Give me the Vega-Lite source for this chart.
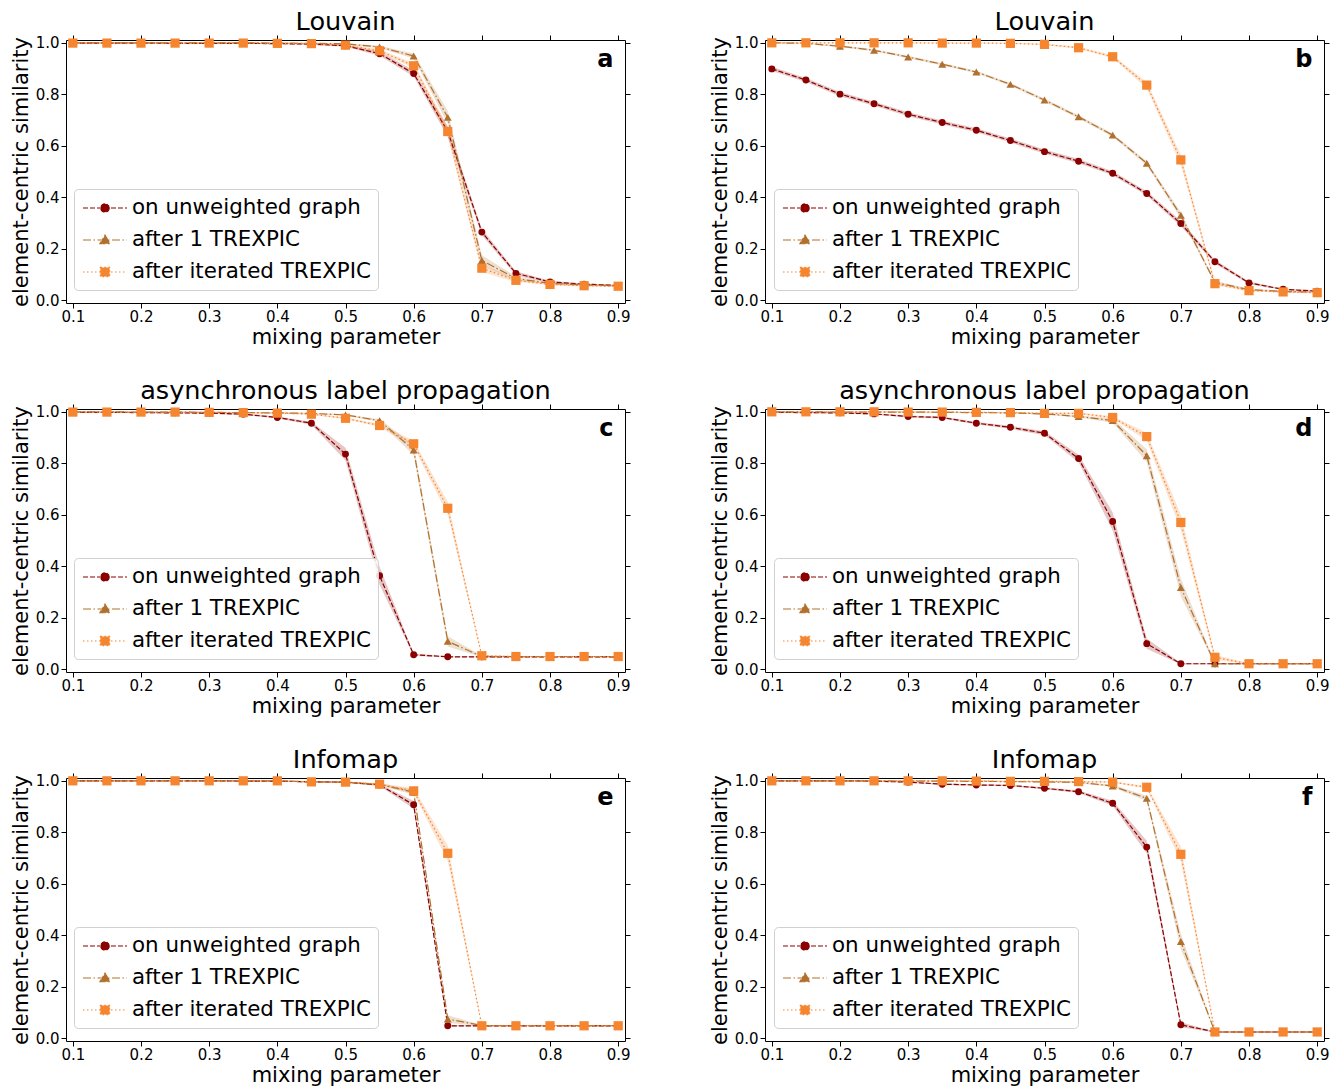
{
  "$schema": "https://vega.github.io/schema/vega-lite/v6.json",
  "padding": {"left": 9, "top": 9, "right": 5, "bottom": 0},
  "columns": 2,
  "spacing": {"row": 106, "column": 140},
  "bounds": "flush",
  "datasets": {
    "curves": [
      {"p":"a","s":"on unweighted graph","mu":0.1,"v":0.998,"lo":0.996,"hi":1.0},
      {"p":"a","s":"on unweighted graph","mu":0.15,"v":0.998,"lo":0.996,"hi":1.0},
      {"p":"a","s":"on unweighted graph","mu":0.2,"v":0.998,"lo":0.996,"hi":1.0},
      {"p":"a","s":"on unweighted graph","mu":0.25,"v":0.997,"lo":0.995,"hi":0.999},
      {"p":"a","s":"on unweighted graph","mu":0.3,"v":0.997,"lo":0.995,"hi":0.999},
      {"p":"a","s":"on unweighted graph","mu":0.35,"v":0.997,"lo":0.995,"hi":0.999},
      {"p":"a","s":"on unweighted graph","mu":0.4,"v":0.996,"lo":0.994,"hi":0.998},
      {"p":"a","s":"on unweighted graph","mu":0.45,"v":0.994,"lo":0.991,"hi":0.997},
      {"p":"a","s":"on unweighted graph","mu":0.5,"v":0.988,"lo":0.984,"hi":0.992},
      {"p":"a","s":"on unweighted graph","mu":0.55,"v":0.957,"lo":0.949,"hi":0.965},
      {"p":"a","s":"on unweighted graph","mu":0.6,"v":0.88,"lo":0.868,"hi":0.892},
      {"p":"a","s":"on unweighted graph","mu":0.65,"v":0.655,"lo":0.635,"hi":0.675},
      {"p":"a","s":"on unweighted graph","mu":0.7,"v":0.265,"lo":0.253,"hi":0.277},
      {"p":"a","s":"on unweighted graph","mu":0.75,"v":0.105,"lo":0.097,"hi":0.113},
      {"p":"a","s":"on unweighted graph","mu":0.8,"v":0.072,"lo":0.068,"hi":0.076},
      {"p":"a","s":"on unweighted graph","mu":0.85,"v":0.063,"lo":0.06,"hi":0.066},
      {"p":"a","s":"on unweighted graph","mu":0.9,"v":0.058,"lo":0.055,"hi":0.061},
      {"p":"a","s":"after 1 TREXPIC","mu":0.1,"v":0.999,"lo":0.997,"hi":1.0},
      {"p":"a","s":"after 1 TREXPIC","mu":0.15,"v":0.999,"lo":0.997,"hi":1.0},
      {"p":"a","s":"after 1 TREXPIC","mu":0.2,"v":0.999,"lo":0.997,"hi":1.0},
      {"p":"a","s":"after 1 TREXPIC","mu":0.25,"v":0.999,"lo":0.997,"hi":1.0},
      {"p":"a","s":"after 1 TREXPIC","mu":0.3,"v":0.999,"lo":0.997,"hi":1.0},
      {"p":"a","s":"after 1 TREXPIC","mu":0.35,"v":0.999,"lo":0.997,"hi":1.0},
      {"p":"a","s":"after 1 TREXPIC","mu":0.4,"v":0.998,"lo":0.996,"hi":1.0},
      {"p":"a","s":"after 1 TREXPIC","mu":0.45,"v":0.997,"lo":0.995,"hi":0.999},
      {"p":"a","s":"after 1 TREXPIC","mu":0.5,"v":0.995,"lo":0.992,"hi":0.998},
      {"p":"a","s":"after 1 TREXPIC","mu":0.55,"v":0.983,"lo":0.978,"hi":0.988},
      {"p":"a","s":"after 1 TREXPIC","mu":0.6,"v":0.948,"lo":0.938,"hi":0.958},
      {"p":"a","s":"after 1 TREXPIC","mu":0.65,"v":0.71,"lo":0.685,"hi":0.735},
      {"p":"a","s":"after 1 TREXPIC","mu":0.7,"v":0.155,"lo":0.135,"hi":0.175},
      {"p":"a","s":"after 1 TREXPIC","mu":0.75,"v":0.085,"lo":0.077,"hi":0.093},
      {"p":"a","s":"after 1 TREXPIC","mu":0.8,"v":0.066,"lo":0.062,"hi":0.07},
      {"p":"a","s":"after 1 TREXPIC","mu":0.85,"v":0.06,"lo":0.057,"hi":0.063},
      {"p":"a","s":"after 1 TREXPIC","mu":0.9,"v":0.057,"lo":0.054,"hi":0.06},
      {"p":"a","s":"after iterated TREXPIC","mu":0.1,"v":0.998,"lo":0.996,"hi":1.0},
      {"p":"a","s":"after iterated TREXPIC","mu":0.15,"v":0.998,"lo":0.996,"hi":1.0},
      {"p":"a","s":"after iterated TREXPIC","mu":0.2,"v":0.998,"lo":0.996,"hi":1.0},
      {"p":"a","s":"after iterated TREXPIC","mu":0.25,"v":0.998,"lo":0.996,"hi":1.0},
      {"p":"a","s":"after iterated TREXPIC","mu":0.3,"v":0.998,"lo":0.996,"hi":1.0},
      {"p":"a","s":"after iterated TREXPIC","mu":0.35,"v":0.998,"lo":0.996,"hi":1.0},
      {"p":"a","s":"after iterated TREXPIC","mu":0.4,"v":0.997,"lo":0.995,"hi":0.999},
      {"p":"a","s":"after iterated TREXPIC","mu":0.45,"v":0.996,"lo":0.994,"hi":0.998},
      {"p":"a","s":"after iterated TREXPIC","mu":0.5,"v":0.99,"lo":0.986,"hi":0.994},
      {"p":"a","s":"after iterated TREXPIC","mu":0.55,"v":0.968,"lo":0.962,"hi":0.974},
      {"p":"a","s":"after iterated TREXPIC","mu":0.6,"v":0.91,"lo":0.9,"hi":0.92},
      {"p":"a","s":"after iterated TREXPIC","mu":0.65,"v":0.655,"lo":0.635,"hi":0.675},
      {"p":"a","s":"after iterated TREXPIC","mu":0.7,"v":0.125,"lo":0.11,"hi":0.14},
      {"p":"a","s":"after iterated TREXPIC","mu":0.75,"v":0.078,"lo":0.072,"hi":0.084},
      {"p":"a","s":"after iterated TREXPIC","mu":0.8,"v":0.062,"lo":0.058,"hi":0.066},
      {"p":"a","s":"after iterated TREXPIC","mu":0.85,"v":0.057,"lo":0.054,"hi":0.06},
      {"p":"a","s":"after iterated TREXPIC","mu":0.9,"v":0.055,"lo":0.052,"hi":0.058},

      {"p":"b","s":"on unweighted graph","mu":0.1,"v":0.898,"lo":0.89,"hi":0.906},
      {"p":"b","s":"on unweighted graph","mu":0.15,"v":0.855,"lo":0.847,"hi":0.863},
      {"p":"b","s":"on unweighted graph","mu":0.2,"v":0.8,"lo":0.792,"hi":0.808},
      {"p":"b","s":"on unweighted graph","mu":0.25,"v":0.763,"lo":0.755,"hi":0.771},
      {"p":"b","s":"on unweighted graph","mu":0.3,"v":0.722,"lo":0.714,"hi":0.73},
      {"p":"b","s":"on unweighted graph","mu":0.35,"v":0.69,"lo":0.682,"hi":0.698},
      {"p":"b","s":"on unweighted graph","mu":0.4,"v":0.66,"lo":0.652,"hi":0.668},
      {"p":"b","s":"on unweighted graph","mu":0.45,"v":0.62,"lo":0.612,"hi":0.628},
      {"p":"b","s":"on unweighted graph","mu":0.5,"v":0.577,"lo":0.569,"hi":0.585},
      {"p":"b","s":"on unweighted graph","mu":0.55,"v":0.54,"lo":0.532,"hi":0.548},
      {"p":"b","s":"on unweighted graph","mu":0.6,"v":0.493,"lo":0.485,"hi":0.501},
      {"p":"b","s":"on unweighted graph","mu":0.65,"v":0.415,"lo":0.407,"hi":0.423},
      {"p":"b","s":"on unweighted graph","mu":0.7,"v":0.298,"lo":0.288,"hi":0.308},
      {"p":"b","s":"on unweighted graph","mu":0.75,"v":0.15,"lo":0.142,"hi":0.158},
      {"p":"b","s":"on unweighted graph","mu":0.8,"v":0.068,"lo":0.063,"hi":0.073},
      {"p":"b","s":"on unweighted graph","mu":0.85,"v":0.043,"lo":0.04,"hi":0.046},
      {"p":"b","s":"on unweighted graph","mu":0.9,"v":0.036,"lo":0.033,"hi":0.039},
      {"p":"b","s":"after 1 TREXPIC","mu":0.1,"v":0.999,"lo":0.997,"hi":1.0},
      {"p":"b","s":"after 1 TREXPIC","mu":0.15,"v":0.997,"lo":0.995,"hi":0.999},
      {"p":"b","s":"after 1 TREXPIC","mu":0.2,"v":0.986,"lo":0.982,"hi":0.99},
      {"p":"b","s":"after 1 TREXPIC","mu":0.25,"v":0.97,"lo":0.966,"hi":0.974},
      {"p":"b","s":"after 1 TREXPIC","mu":0.3,"v":0.944,"lo":0.939,"hi":0.949},
      {"p":"b","s":"after 1 TREXPIC","mu":0.35,"v":0.916,"lo":0.911,"hi":0.921},
      {"p":"b","s":"after 1 TREXPIC","mu":0.4,"v":0.886,"lo":0.881,"hi":0.891},
      {"p":"b","s":"after 1 TREXPIC","mu":0.45,"v":0.838,"lo":0.833,"hi":0.843},
      {"p":"b","s":"after 1 TREXPIC","mu":0.5,"v":0.777,"lo":0.771,"hi":0.783},
      {"p":"b","s":"after 1 TREXPIC","mu":0.55,"v":0.712,"lo":0.706,"hi":0.718},
      {"p":"b","s":"after 1 TREXPIC","mu":0.6,"v":0.641,"lo":0.635,"hi":0.647},
      {"p":"b","s":"after 1 TREXPIC","mu":0.65,"v":0.532,"lo":0.524,"hi":0.54},
      {"p":"b","s":"after 1 TREXPIC","mu":0.7,"v":0.33,"lo":0.318,"hi":0.342},
      {"p":"b","s":"after 1 TREXPIC","mu":0.75,"v":0.07,"lo":0.064,"hi":0.076},
      {"p":"b","s":"after 1 TREXPIC","mu":0.8,"v":0.042,"lo":0.039,"hi":0.045},
      {"p":"b","s":"after 1 TREXPIC","mu":0.85,"v":0.035,"lo":0.032,"hi":0.038},
      {"p":"b","s":"after 1 TREXPIC","mu":0.9,"v":0.032,"lo":0.029,"hi":0.035},
      {"p":"b","s":"after iterated TREXPIC","mu":0.1,"v":0.999,"lo":0.997,"hi":1.0},
      {"p":"b","s":"after iterated TREXPIC","mu":0.15,"v":0.999,"lo":0.997,"hi":1.0},
      {"p":"b","s":"after iterated TREXPIC","mu":0.2,"v":0.999,"lo":0.997,"hi":1.0},
      {"p":"b","s":"after iterated TREXPIC","mu":0.25,"v":0.999,"lo":0.997,"hi":1.0},
      {"p":"b","s":"after iterated TREXPIC","mu":0.3,"v":0.999,"lo":0.997,"hi":1.0},
      {"p":"b","s":"after iterated TREXPIC","mu":0.35,"v":0.998,"lo":0.996,"hi":1.0},
      {"p":"b","s":"after iterated TREXPIC","mu":0.4,"v":0.998,"lo":0.996,"hi":1.0},
      {"p":"b","s":"after iterated TREXPIC","mu":0.45,"v":0.997,"lo":0.995,"hi":0.999},
      {"p":"b","s":"after iterated TREXPIC","mu":0.5,"v":0.993,"lo":0.99,"hi":0.996},
      {"p":"b","s":"after iterated TREXPIC","mu":0.55,"v":0.98,"lo":0.976,"hi":0.984},
      {"p":"b","s":"after iterated TREXPIC","mu":0.6,"v":0.945,"lo":0.939,"hi":0.951},
      {"p":"b","s":"after iterated TREXPIC","mu":0.65,"v":0.835,"lo":0.823,"hi":0.847},
      {"p":"b","s":"after iterated TREXPIC","mu":0.7,"v":0.545,"lo":0.525,"hi":0.565},
      {"p":"b","s":"after iterated TREXPIC","mu":0.75,"v":0.065,"lo":0.059,"hi":0.071},
      {"p":"b","s":"after iterated TREXPIC","mu":0.8,"v":0.038,"lo":0.035,"hi":0.041},
      {"p":"b","s":"after iterated TREXPIC","mu":0.85,"v":0.033,"lo":0.03,"hi":0.036},
      {"p":"b","s":"after iterated TREXPIC","mu":0.9,"v":0.03,"lo":0.027,"hi":0.033},

      {"p":"c","s":"on unweighted graph","mu":0.1,"v":0.997,"lo":0.995,"hi":0.999},
      {"p":"c","s":"on unweighted graph","mu":0.15,"v":0.997,"lo":0.995,"hi":0.999},
      {"p":"c","s":"on unweighted graph","mu":0.2,"v":0.996,"lo":0.994,"hi":0.998},
      {"p":"c","s":"on unweighted graph","mu":0.25,"v":0.995,"lo":0.993,"hi":0.997},
      {"p":"c","s":"on unweighted graph","mu":0.3,"v":0.994,"lo":0.992,"hi":0.996},
      {"p":"c","s":"on unweighted graph","mu":0.35,"v":0.99,"lo":0.987,"hi":0.993},
      {"p":"c","s":"on unweighted graph","mu":0.4,"v":0.977,"lo":0.973,"hi":0.981},
      {"p":"c","s":"on unweighted graph","mu":0.45,"v":0.955,"lo":0.949,"hi":0.961},
      {"p":"c","s":"on unweighted graph","mu":0.5,"v":0.835,"lo":0.81,"hi":0.86},
      {"p":"c","s":"on unweighted graph","mu":0.55,"v":0.363,"lo":0.328,"hi":0.398},
      {"p":"c","s":"on unweighted graph","mu":0.6,"v":0.057,"lo":0.052,"hi":0.062},
      {"p":"c","s":"on unweighted graph","mu":0.65,"v":0.049,"lo":0.047,"hi":0.051},
      {"p":"c","s":"on unweighted graph","mu":0.7,"v":0.049,"lo":0.047,"hi":0.051},
      {"p":"c","s":"on unweighted graph","mu":0.75,"v":0.049,"lo":0.047,"hi":0.051},
      {"p":"c","s":"on unweighted graph","mu":0.8,"v":0.049,"lo":0.047,"hi":0.051},
      {"p":"c","s":"on unweighted graph","mu":0.85,"v":0.049,"lo":0.047,"hi":0.051},
      {"p":"c","s":"on unweighted graph","mu":0.9,"v":0.049,"lo":0.047,"hi":0.051},
      {"p":"c","s":"after 1 TREXPIC","mu":0.1,"v":0.999,"lo":0.997,"hi":1.0},
      {"p":"c","s":"after 1 TREXPIC","mu":0.15,"v":0.999,"lo":0.997,"hi":1.0},
      {"p":"c","s":"after 1 TREXPIC","mu":0.2,"v":0.998,"lo":0.996,"hi":1.0},
      {"p":"c","s":"after 1 TREXPIC","mu":0.25,"v":0.998,"lo":0.996,"hi":1.0},
      {"p":"c","s":"after 1 TREXPIC","mu":0.3,"v":0.997,"lo":0.995,"hi":0.999},
      {"p":"c","s":"after 1 TREXPIC","mu":0.35,"v":0.996,"lo":0.994,"hi":0.998},
      {"p":"c","s":"after 1 TREXPIC","mu":0.4,"v":0.995,"lo":0.993,"hi":0.997},
      {"p":"c","s":"after 1 TREXPIC","mu":0.45,"v":0.993,"lo":0.991,"hi":0.995},
      {"p":"c","s":"after 1 TREXPIC","mu":0.5,"v":0.987,"lo":0.984,"hi":0.99},
      {"p":"c","s":"after 1 TREXPIC","mu":0.55,"v":0.965,"lo":0.96,"hi":0.97},
      {"p":"c","s":"after 1 TREXPIC","mu":0.6,"v":0.851,"lo":0.831,"hi":0.871},
      {"p":"c","s":"after 1 TREXPIC","mu":0.65,"v":0.109,"lo":0.089,"hi":0.129},
      {"p":"c","s":"after 1 TREXPIC","mu":0.7,"v":0.05,"lo":0.047,"hi":0.053},
      {"p":"c","s":"after 1 TREXPIC","mu":0.75,"v":0.05,"lo":0.048,"hi":0.052},
      {"p":"c","s":"after 1 TREXPIC","mu":0.8,"v":0.05,"lo":0.048,"hi":0.052},
      {"p":"c","s":"after 1 TREXPIC","mu":0.85,"v":0.05,"lo":0.048,"hi":0.052},
      {"p":"c","s":"after 1 TREXPIC","mu":0.9,"v":0.05,"lo":0.048,"hi":0.052},
      {"p":"c","s":"after iterated TREXPIC","mu":0.1,"v":0.998,"lo":0.996,"hi":1.0},
      {"p":"c","s":"after iterated TREXPIC","mu":0.15,"v":0.998,"lo":0.996,"hi":1.0},
      {"p":"c","s":"after iterated TREXPIC","mu":0.2,"v":0.998,"lo":0.996,"hi":1.0},
      {"p":"c","s":"after iterated TREXPIC","mu":0.25,"v":0.998,"lo":0.996,"hi":1.0},
      {"p":"c","s":"after iterated TREXPIC","mu":0.3,"v":0.997,"lo":0.995,"hi":0.999},
      {"p":"c","s":"after iterated TREXPIC","mu":0.35,"v":0.996,"lo":0.994,"hi":0.998},
      {"p":"c","s":"after iterated TREXPIC","mu":0.4,"v":0.994,"lo":0.992,"hi":0.996},
      {"p":"c","s":"after iterated TREXPIC","mu":0.45,"v":0.99,"lo":0.987,"hi":0.993},
      {"p":"c","s":"after iterated TREXPIC","mu":0.5,"v":0.974,"lo":0.97,"hi":0.978},
      {"p":"c","s":"after iterated TREXPIC","mu":0.55,"v":0.946,"lo":0.94,"hi":0.952},
      {"p":"c","s":"after iterated TREXPIC","mu":0.6,"v":0.875,"lo":0.863,"hi":0.887},
      {"p":"c","s":"after iterated TREXPIC","mu":0.65,"v":0.625,"lo":0.6,"hi":0.65},
      {"p":"c","s":"after iterated TREXPIC","mu":0.7,"v":0.053,"lo":0.049,"hi":0.057},
      {"p":"c","s":"after iterated TREXPIC","mu":0.75,"v":0.05,"lo":0.048,"hi":0.052},
      {"p":"c","s":"after iterated TREXPIC","mu":0.8,"v":0.05,"lo":0.048,"hi":0.052},
      {"p":"c","s":"after iterated TREXPIC","mu":0.85,"v":0.05,"lo":0.048,"hi":0.052},
      {"p":"c","s":"after iterated TREXPIC","mu":0.9,"v":0.05,"lo":0.048,"hi":0.052},

      {"p":"d","s":"on unweighted graph","mu":0.1,"v":0.997,"lo":0.995,"hi":0.999},
      {"p":"d","s":"on unweighted graph","mu":0.15,"v":0.996,"lo":0.994,"hi":0.998},
      {"p":"d","s":"on unweighted graph","mu":0.2,"v":0.995,"lo":0.993,"hi":0.997},
      {"p":"d","s":"on unweighted graph","mu":0.25,"v":0.991,"lo":0.988,"hi":0.994},
      {"p":"d","s":"on unweighted graph","mu":0.3,"v":0.981,"lo":0.977,"hi":0.985},
      {"p":"d","s":"on unweighted graph","mu":0.35,"v":0.977,"lo":0.973,"hi":0.981},
      {"p":"d","s":"on unweighted graph","mu":0.4,"v":0.955,"lo":0.95,"hi":0.96},
      {"p":"d","s":"on unweighted graph","mu":0.45,"v":0.939,"lo":0.933,"hi":0.945},
      {"p":"d","s":"on unweighted graph","mu":0.5,"v":0.916,"lo":0.908,"hi":0.924},
      {"p":"d","s":"on unweighted graph","mu":0.55,"v":0.818,"lo":0.803,"hi":0.833},
      {"p":"d","s":"on unweighted graph","mu":0.6,"v":0.574,"lo":0.539,"hi":0.609},
      {"p":"d","s":"on unweighted graph","mu":0.65,"v":0.1,"lo":0.08,"hi":0.12},
      {"p":"d","s":"on unweighted graph","mu":0.7,"v":0.022,"lo":0.019,"hi":0.025},
      {"p":"d","s":"on unweighted graph","mu":0.75,"v":0.022,"lo":0.02,"hi":0.024},
      {"p":"d","s":"on unweighted graph","mu":0.8,"v":0.022,"lo":0.02,"hi":0.024},
      {"p":"d","s":"on unweighted graph","mu":0.85,"v":0.022,"lo":0.02,"hi":0.024},
      {"p":"d","s":"on unweighted graph","mu":0.9,"v":0.022,"lo":0.02,"hi":0.024},
      {"p":"d","s":"after 1 TREXPIC","mu":0.1,"v":0.999,"lo":0.997,"hi":1.0},
      {"p":"d","s":"after 1 TREXPIC","mu":0.15,"v":0.999,"lo":0.997,"hi":1.0},
      {"p":"d","s":"after 1 TREXPIC","mu":0.2,"v":0.998,"lo":0.996,"hi":1.0},
      {"p":"d","s":"after 1 TREXPIC","mu":0.25,"v":0.998,"lo":0.996,"hi":1.0},
      {"p":"d","s":"after 1 TREXPIC","mu":0.3,"v":0.998,"lo":0.996,"hi":1.0},
      {"p":"d","s":"after 1 TREXPIC","mu":0.35,"v":0.997,"lo":0.995,"hi":0.999},
      {"p":"d","s":"after 1 TREXPIC","mu":0.4,"v":0.996,"lo":0.994,"hi":0.998},
      {"p":"d","s":"after 1 TREXPIC","mu":0.45,"v":0.995,"lo":0.993,"hi":0.997},
      {"p":"d","s":"after 1 TREXPIC","mu":0.5,"v":0.991,"lo":0.988,"hi":0.994},
      {"p":"d","s":"after 1 TREXPIC","mu":0.55,"v":0.981,"lo":0.977,"hi":0.985},
      {"p":"d","s":"after 1 TREXPIC","mu":0.6,"v":0.965,"lo":0.957,"hi":0.973},
      {"p":"d","s":"after 1 TREXPIC","mu":0.65,"v":0.829,"lo":0.804,"hi":0.854},
      {"p":"d","s":"after 1 TREXPIC","mu":0.7,"v":0.318,"lo":0.283,"hi":0.353},
      {"p":"d","s":"after 1 TREXPIC","mu":0.75,"v":0.022,"lo":0.019,"hi":0.025},
      {"p":"d","s":"after 1 TREXPIC","mu":0.8,"v":0.022,"lo":0.02,"hi":0.024},
      {"p":"d","s":"after 1 TREXPIC","mu":0.85,"v":0.022,"lo":0.02,"hi":0.024},
      {"p":"d","s":"after 1 TREXPIC","mu":0.9,"v":0.022,"lo":0.02,"hi":0.024},
      {"p":"d","s":"after iterated TREXPIC","mu":0.1,"v":0.999,"lo":0.997,"hi":1.0},
      {"p":"d","s":"after iterated TREXPIC","mu":0.15,"v":0.999,"lo":0.997,"hi":1.0},
      {"p":"d","s":"after iterated TREXPIC","mu":0.2,"v":0.999,"lo":0.997,"hi":1.0},
      {"p":"d","s":"after iterated TREXPIC","mu":0.25,"v":0.999,"lo":0.997,"hi":1.0},
      {"p":"d","s":"after iterated TREXPIC","mu":0.3,"v":0.998,"lo":0.996,"hi":1.0},
      {"p":"d","s":"after iterated TREXPIC","mu":0.35,"v":0.998,"lo":0.996,"hi":1.0},
      {"p":"d","s":"after iterated TREXPIC","mu":0.4,"v":0.997,"lo":0.995,"hi":0.999},
      {"p":"d","s":"after iterated TREXPIC","mu":0.45,"v":0.996,"lo":0.994,"hi":0.998},
      {"p":"d","s":"after iterated TREXPIC","mu":0.5,"v":0.993,"lo":0.99,"hi":0.996},
      {"p":"d","s":"after iterated TREXPIC","mu":0.55,"v":0.993,"lo":0.99,"hi":0.996},
      {"p":"d","s":"after iterated TREXPIC","mu":0.6,"v":0.977,"lo":0.972,"hi":0.982},
      {"p":"d","s":"after iterated TREXPIC","mu":0.65,"v":0.903,"lo":0.888,"hi":0.918},
      {"p":"d","s":"after iterated TREXPIC","mu":0.7,"v":0.57,"lo":0.54,"hi":0.6},
      {"p":"d","s":"after iterated TREXPIC","mu":0.75,"v":0.047,"lo":0.037,"hi":0.057},
      {"p":"d","s":"after iterated TREXPIC","mu":0.8,"v":0.022,"lo":0.02,"hi":0.024},
      {"p":"d","s":"after iterated TREXPIC","mu":0.85,"v":0.022,"lo":0.02,"hi":0.024},
      {"p":"d","s":"after iterated TREXPIC","mu":0.9,"v":0.022,"lo":0.02,"hi":0.024},

      {"p":"e","s":"on unweighted graph","mu":0.1,"v":0.999,"lo":0.997,"hi":1.0},
      {"p":"e","s":"on unweighted graph","mu":0.15,"v":0.999,"lo":0.997,"hi":1.0},
      {"p":"e","s":"on unweighted graph","mu":0.2,"v":0.999,"lo":0.997,"hi":1.0},
      {"p":"e","s":"on unweighted graph","mu":0.25,"v":0.999,"lo":0.997,"hi":1.0},
      {"p":"e","s":"on unweighted graph","mu":0.3,"v":0.999,"lo":0.997,"hi":1.0},
      {"p":"e","s":"on unweighted graph","mu":0.35,"v":0.998,"lo":0.996,"hi":1.0},
      {"p":"e","s":"on unweighted graph","mu":0.4,"v":0.998,"lo":0.996,"hi":1.0},
      {"p":"e","s":"on unweighted graph","mu":0.45,"v":0.995,"lo":0.993,"hi":0.997},
      {"p":"e","s":"on unweighted graph","mu":0.5,"v":0.994,"lo":0.992,"hi":0.996},
      {"p":"e","s":"on unweighted graph","mu":0.55,"v":0.983,"lo":0.979,"hi":0.987},
      {"p":"e","s":"on unweighted graph","mu":0.6,"v":0.906,"lo":0.891,"hi":0.921},
      {"p":"e","s":"on unweighted graph","mu":0.65,"v":0.049,"lo":0.046,"hi":0.052},
      {"p":"e","s":"on unweighted graph","mu":0.7,"v":0.049,"lo":0.047,"hi":0.051},
      {"p":"e","s":"on unweighted graph","mu":0.75,"v":0.049,"lo":0.047,"hi":0.051},
      {"p":"e","s":"on unweighted graph","mu":0.8,"v":0.049,"lo":0.047,"hi":0.051},
      {"p":"e","s":"on unweighted graph","mu":0.85,"v":0.049,"lo":0.047,"hi":0.051},
      {"p":"e","s":"on unweighted graph","mu":0.9,"v":0.049,"lo":0.047,"hi":0.051},
      {"p":"e","s":"after 1 TREXPIC","mu":0.1,"v":0.999,"lo":0.997,"hi":1.0},
      {"p":"e","s":"after 1 TREXPIC","mu":0.15,"v":0.999,"lo":0.997,"hi":1.0},
      {"p":"e","s":"after 1 TREXPIC","mu":0.2,"v":0.999,"lo":0.997,"hi":1.0},
      {"p":"e","s":"after 1 TREXPIC","mu":0.25,"v":0.999,"lo":0.997,"hi":1.0},
      {"p":"e","s":"after 1 TREXPIC","mu":0.3,"v":0.999,"lo":0.997,"hi":1.0},
      {"p":"e","s":"after 1 TREXPIC","mu":0.35,"v":0.999,"lo":0.997,"hi":1.0},
      {"p":"e","s":"after 1 TREXPIC","mu":0.4,"v":0.999,"lo":0.997,"hi":1.0},
      {"p":"e","s":"after 1 TREXPIC","mu":0.45,"v":0.995,"lo":0.993,"hi":0.997},
      {"p":"e","s":"after 1 TREXPIC","mu":0.5,"v":0.994,"lo":0.992,"hi":0.996},
      {"p":"e","s":"after 1 TREXPIC","mu":0.55,"v":0.985,"lo":0.981,"hi":0.989},
      {"p":"e","s":"after 1 TREXPIC","mu":0.6,"v":0.955,"lo":0.945,"hi":0.965},
      {"p":"e","s":"after 1 TREXPIC","mu":0.65,"v":0.075,"lo":0.06,"hi":0.09},
      {"p":"e","s":"after 1 TREXPIC","mu":0.7,"v":0.05,"lo":0.048,"hi":0.052},
      {"p":"e","s":"after 1 TREXPIC","mu":0.75,"v":0.05,"lo":0.048,"hi":0.052},
      {"p":"e","s":"after 1 TREXPIC","mu":0.8,"v":0.05,"lo":0.048,"hi":0.052},
      {"p":"e","s":"after 1 TREXPIC","mu":0.85,"v":0.05,"lo":0.048,"hi":0.052},
      {"p":"e","s":"after 1 TREXPIC","mu":0.9,"v":0.05,"lo":0.048,"hi":0.052},
      {"p":"e","s":"after iterated TREXPIC","mu":0.1,"v":0.999,"lo":0.997,"hi":1.0},
      {"p":"e","s":"after iterated TREXPIC","mu":0.15,"v":0.999,"lo":0.997,"hi":1.0},
      {"p":"e","s":"after iterated TREXPIC","mu":0.2,"v":0.999,"lo":0.997,"hi":1.0},
      {"p":"e","s":"after iterated TREXPIC","mu":0.25,"v":0.999,"lo":0.997,"hi":1.0},
      {"p":"e","s":"after iterated TREXPIC","mu":0.3,"v":0.999,"lo":0.997,"hi":1.0},
      {"p":"e","s":"after iterated TREXPIC","mu":0.35,"v":0.999,"lo":0.997,"hi":1.0},
      {"p":"e","s":"after iterated TREXPIC","mu":0.4,"v":0.999,"lo":0.997,"hi":1.0},
      {"p":"e","s":"after iterated TREXPIC","mu":0.45,"v":0.995,"lo":0.993,"hi":0.997},
      {"p":"e","s":"after iterated TREXPIC","mu":0.5,"v":0.994,"lo":0.992,"hi":0.996},
      {"p":"e","s":"after iterated TREXPIC","mu":0.55,"v":0.986,"lo":0.982,"hi":0.99},
      {"p":"e","s":"after iterated TREXPIC","mu":0.6,"v":0.96,"lo":0.95,"hi":0.97},
      {"p":"e","s":"after iterated TREXPIC","mu":0.65,"v":0.718,"lo":0.688,"hi":0.748},
      {"p":"e","s":"after iterated TREXPIC","mu":0.7,"v":0.049,"lo":0.046,"hi":0.052},
      {"p":"e","s":"after iterated TREXPIC","mu":0.75,"v":0.049,"lo":0.047,"hi":0.051},
      {"p":"e","s":"after iterated TREXPIC","mu":0.8,"v":0.049,"lo":0.047,"hi":0.051},
      {"p":"e","s":"after iterated TREXPIC","mu":0.85,"v":0.049,"lo":0.047,"hi":0.051},
      {"p":"e","s":"after iterated TREXPIC","mu":0.9,"v":0.049,"lo":0.047,"hi":0.051},

      {"p":"f","s":"on unweighted graph","mu":0.1,"v":0.999,"lo":0.997,"hi":1.0},
      {"p":"f","s":"on unweighted graph","mu":0.15,"v":0.999,"lo":0.997,"hi":1.0},
      {"p":"f","s":"on unweighted graph","mu":0.2,"v":0.999,"lo":0.997,"hi":1.0},
      {"p":"f","s":"on unweighted graph","mu":0.25,"v":0.998,"lo":0.996,"hi":1.0},
      {"p":"f","s":"on unweighted graph","mu":0.3,"v":0.994,"lo":0.992,"hi":0.996},
      {"p":"f","s":"on unweighted graph","mu":0.35,"v":0.986,"lo":0.983,"hi":0.989},
      {"p":"f","s":"on unweighted graph","mu":0.4,"v":0.983,"lo":0.98,"hi":0.986},
      {"p":"f","s":"on unweighted graph","mu":0.45,"v":0.981,"lo":0.978,"hi":0.984},
      {"p":"f","s":"on unweighted graph","mu":0.5,"v":0.97,"lo":0.966,"hi":0.974},
      {"p":"f","s":"on unweighted graph","mu":0.55,"v":0.957,"lo":0.952,"hi":0.962},
      {"p":"f","s":"on unweighted graph","mu":0.6,"v":0.912,"lo":0.902,"hi":0.922},
      {"p":"f","s":"on unweighted graph","mu":0.65,"v":0.742,"lo":0.717,"hi":0.767},
      {"p":"f","s":"on unweighted graph","mu":0.7,"v":0.053,"lo":0.043,"hi":0.063},
      {"p":"f","s":"on unweighted graph","mu":0.75,"v":0.025,"lo":0.023,"hi":0.027},
      {"p":"f","s":"on unweighted graph","mu":0.8,"v":0.025,"lo":0.023,"hi":0.027},
      {"p":"f","s":"on unweighted graph","mu":0.85,"v":0.025,"lo":0.023,"hi":0.027},
      {"p":"f","s":"on unweighted graph","mu":0.9,"v":0.025,"lo":0.023,"hi":0.027},
      {"p":"f","s":"after 1 TREXPIC","mu":0.1,"v":0.999,"lo":0.997,"hi":1.0},
      {"p":"f","s":"after 1 TREXPIC","mu":0.15,"v":0.999,"lo":0.997,"hi":1.0},
      {"p":"f","s":"after 1 TREXPIC","mu":0.2,"v":0.999,"lo":0.997,"hi":1.0},
      {"p":"f","s":"after 1 TREXPIC","mu":0.25,"v":0.999,"lo":0.997,"hi":1.0},
      {"p":"f","s":"after 1 TREXPIC","mu":0.3,"v":0.998,"lo":0.996,"hi":1.0},
      {"p":"f","s":"after 1 TREXPIC","mu":0.35,"v":0.998,"lo":0.996,"hi":1.0},
      {"p":"f","s":"after 1 TREXPIC","mu":0.4,"v":0.997,"lo":0.995,"hi":0.999},
      {"p":"f","s":"after 1 TREXPIC","mu":0.45,"v":0.996,"lo":0.994,"hi":0.998},
      {"p":"f","s":"after 1 TREXPIC","mu":0.5,"v":0.995,"lo":0.993,"hi":0.997},
      {"p":"f","s":"after 1 TREXPIC","mu":0.55,"v":0.993,"lo":0.99,"hi":0.996},
      {"p":"f","s":"after 1 TREXPIC","mu":0.6,"v":0.979,"lo":0.974,"hi":0.984},
      {"p":"f","s":"after 1 TREXPIC","mu":0.65,"v":0.931,"lo":0.921,"hi":0.941},
      {"p":"f","s":"after 1 TREXPIC","mu":0.7,"v":0.376,"lo":0.346,"hi":0.406},
      {"p":"f","s":"after 1 TREXPIC","mu":0.75,"v":0.025,"lo":0.023,"hi":0.027},
      {"p":"f","s":"after 1 TREXPIC","mu":0.8,"v":0.025,"lo":0.023,"hi":0.027},
      {"p":"f","s":"after 1 TREXPIC","mu":0.85,"v":0.025,"lo":0.023,"hi":0.027},
      {"p":"f","s":"after 1 TREXPIC","mu":0.9,"v":0.025,"lo":0.023,"hi":0.027},
      {"p":"f","s":"after iterated TREXPIC","mu":0.1,"v":0.999,"lo":0.997,"hi":1.0},
      {"p":"f","s":"after iterated TREXPIC","mu":0.15,"v":0.999,"lo":0.997,"hi":1.0},
      {"p":"f","s":"after iterated TREXPIC","mu":0.2,"v":0.999,"lo":0.997,"hi":1.0},
      {"p":"f","s":"after iterated TREXPIC","mu":0.25,"v":0.999,"lo":0.997,"hi":1.0},
      {"p":"f","s":"after iterated TREXPIC","mu":0.3,"v":0.999,"lo":0.997,"hi":1.0},
      {"p":"f","s":"after iterated TREXPIC","mu":0.35,"v":0.999,"lo":0.997,"hi":1.0},
      {"p":"f","s":"after iterated TREXPIC","mu":0.4,"v":0.998,"lo":0.996,"hi":1.0},
      {"p":"f","s":"after iterated TREXPIC","mu":0.45,"v":0.997,"lo":0.995,"hi":0.999},
      {"p":"f","s":"after iterated TREXPIC","mu":0.5,"v":0.997,"lo":0.995,"hi":0.999},
      {"p":"f","s":"after iterated TREXPIC","mu":0.55,"v":0.996,"lo":0.994,"hi":0.998},
      {"p":"f","s":"after iterated TREXPIC","mu":0.6,"v":0.994,"lo":0.992,"hi":0.996},
      {"p":"f","s":"after iterated TREXPIC","mu":0.65,"v":0.974,"lo":0.969,"hi":0.979},
      {"p":"f","s":"after iterated TREXPIC","mu":0.7,"v":0.714,"lo":0.684,"hi":0.744},
      {"p":"f","s":"after iterated TREXPIC","mu":0.75,"v":0.025,"lo":0.023,"hi":0.027},
      {"p":"f","s":"after iterated TREXPIC","mu":0.8,"v":0.025,"lo":0.023,"hi":0.027},
      {"p":"f","s":"after iterated TREXPIC","mu":0.85,"v":0.025,"lo":0.023,"hi":0.027},
      {"p":"f","s":"after iterated TREXPIC","mu":0.9,"v":0.025,"lo":0.023,"hi":0.027}
    ]
  },
  "concat": [
    {
      "title": "Louvain",
      "width": 559, "height": 263,
      "data": {"name": "curves"},
      "transform": [{"filter": "datum.p === 'a'"}],
      "layer": [
        {"mark": {"type": "area", "opacity": 0.22},
         "encoding": {
           "x": {"field": "mu", "type": "quantitative", "scale": {"domain": [0.09, 0.91], "nice": false, "zero": false}, "axis": null},
           "y": {"field": "lo", "type": "quantitative", "scale": {"domain": [-0.01, 1.01], "nice": false, "zero": false}, "axis": null},
           "y2": {"field": "hi"},
           "color": {"field": "s", "type": "nominal", "scale": {"domain": ["on unweighted graph", "after 1 TREXPIC", "after iterated TREXPIC"], "range": ["#8b0000", "#b1702d", "#f5852f"]}}
         }},
        {"mark": {"type": "line", "strokeWidth": 1.2},
         "encoding": {
           "x": {"field": "mu", "type": "quantitative", "axis": {"orient": "bottom", "values": [0.1, 0.2, 0.3, 0.4, 0.5, 0.6, 0.7, 0.8, 0.9], "format": ".1f", "title": "mixing parameter"}},
           "y": {"field": "v", "type": "quantitative", "axis": {"orient": "left", "values": [0, 0.2, 0.4, 0.6, 0.8, 1.0], "format": ".1f", "title": "element-centric similarity"}},
           "color": {"field": "s", "type": "nominal"},
           "strokeDash": {"field": "s", "type": "nominal", "scale": {"domain": ["on unweighted graph", "after 1 TREXPIC", "after iterated TREXPIC"], "range": [[5, 2], [8, 2.5, 1.5, 2.5], [1.5, 2.5]]}}
         }},
        {"transform": [{"filter": "datum.s === 'on unweighted graph'"}],
         "mark": {"type": "point", "shape": "circle", "filled": true, "opacity": 1, "size": 48},
         "encoding": {"x": {"field": "mu", "type": "quantitative", "axis": null}, "y": {"field": "v", "type": "quantitative", "axis": null}, "color": {"field": "s", "type": "nominal"}}},
        {"transform": [{"filter": "datum.s === 'after 1 TREXPIC'"}],
         "mark": {"type": "point", "shape": "triangle-up", "filled": true, "opacity": 1, "size": 64},
         "encoding": {"x": {"field": "mu", "type": "quantitative", "axis": null}, "y": {"field": "v", "type": "quantitative", "axis": null}, "color": {"field": "s", "type": "nominal"}}},
        {"transform": [{"filter": "datum.s === 'after iterated TREXPIC'"}],
         "mark": {"type": "point", "shape": "square", "filled": true, "opacity": 1, "size": 85},
         "encoding": {"x": {"field": "mu", "type": "quantitative", "axis": null}, "y": {"field": "v", "type": "quantitative", "axis": null}, "color": {"field": "s", "type": "nominal"}}},
        {"mark": {"type": "point", "opacity": 0},
         "encoding": {
           "x": {"field": "mu", "type": "quantitative", "axis": {"orient": "top", "values": [0.1, 0.2, 0.3, 0.4, 0.5, 0.6, 0.7, 0.8, 0.9], "labels": false, "title": null}},
           "y": {"field": "v", "type": "quantitative", "axis": {"orient": "right", "values": [0, 0.2, 0.4, 0.6, 0.8, 1.0], "labels": false, "title": null}}
         }},
        {"data": {"values": []},
         "mark": {"type": "point", "filled": true},
         "encoding": {
           "x": {"field": "mu", "type": "quantitative", "axis": null},
           "y": {"field": "v", "type": "quantitative", "axis": null},
           "color": {"field": "s", "type": "nominal"},
           "strokeDash": {"field": "s", "type": "nominal"},
           "shape": {"field": "s", "type": "nominal",
             "scale": {"domain": ["on unweighted graph", "after 1 TREXPIC", "after iterated TREXPIC"], "range": ["M-2,0H2M0.38,0A0.38,0.38,0,1,1,-0.38,0A0.38,0.38,0,1,1,0.38,0Z", "M-2,0H2M0,-0.44L0.46,0.34L-0.46,0.34Z", "M-2,0H2M-0.42,-0.42H0.42V0.42H-0.42Z"]},
             "legend": {"orient": "none", "legendX": 8, "legendY": 149, "title": null, "padding": 7, "fillColor": "rgba(255,255,255,0.85)", "strokeColor": "#d0d0d0", "cornerRadius": 4, "labelFontSize": 21.4, "labelColor": "black", "labelLimit": 400, "labelOffset": 15, "symbolSize": 484, "symbolOffset": 12, "rowPadding": 9, "symbolStrokeWidth": 1.2, "symbolOpacity": 1}}
         }},
        {"data": {"values": [{"p": "a", "letter": "a"}]},
         "mark": {"type": "text", "fontSize": 24, "fontWeight": "bold", "align": "right", "baseline": "alphabetic", "color": "black"},
         "encoding": {
           "x": {"datum": 0.893, "type": "quantitative", "axis": null},
           "y": {"datum": 0.907, "type": "quantitative", "axis": null},
           "text": {"field": "letter"}
         }}
      ],
      "resolve": {"axis": {"x": "independent", "y": "independent"}}
    },
    {
      "title": "Louvain",
      "width": 559, "height": 263,
      "data": {"name": "curves"},
      "transform": [{"filter": "datum.p === 'b'"}],
      "layer": [
        {"mark": {"type": "area", "opacity": 0.22},
         "encoding": {
           "x": {"field": "mu", "type": "quantitative", "scale": {"domain": [0.09, 0.91], "nice": false, "zero": false}, "axis": null},
           "y": {"field": "lo", "type": "quantitative", "scale": {"domain": [-0.01, 1.01], "nice": false, "zero": false}, "axis": null},
           "y2": {"field": "hi"},
           "color": {"field": "s", "type": "nominal", "scale": {"domain": ["on unweighted graph", "after 1 TREXPIC", "after iterated TREXPIC"], "range": ["#8b0000", "#b1702d", "#f5852f"]}}
         }},
        {"mark": {"type": "line", "strokeWidth": 1.2},
         "encoding": {
           "x": {"field": "mu", "type": "quantitative", "axis": {"orient": "bottom", "values": [0.1, 0.2, 0.3, 0.4, 0.5, 0.6, 0.7, 0.8, 0.9], "format": ".1f", "title": "mixing parameter"}},
           "y": {"field": "v", "type": "quantitative", "axis": {"orient": "left", "values": [0, 0.2, 0.4, 0.6, 0.8, 1.0], "format": ".1f", "title": "element-centric similarity"}},
           "color": {"field": "s", "type": "nominal"},
           "strokeDash": {"field": "s", "type": "nominal", "scale": {"domain": ["on unweighted graph", "after 1 TREXPIC", "after iterated TREXPIC"], "range": [[5, 2], [8, 2.5, 1.5, 2.5], [1.5, 2.5]]}}
         }},
        {"transform": [{"filter": "datum.s === 'on unweighted graph'"}],
         "mark": {"type": "point", "shape": "circle", "filled": true, "opacity": 1, "size": 48},
         "encoding": {"x": {"field": "mu", "type": "quantitative", "axis": null}, "y": {"field": "v", "type": "quantitative", "axis": null}, "color": {"field": "s", "type": "nominal"}}},
        {"transform": [{"filter": "datum.s === 'after 1 TREXPIC'"}],
         "mark": {"type": "point", "shape": "triangle-up", "filled": true, "opacity": 1, "size": 64},
         "encoding": {"x": {"field": "mu", "type": "quantitative", "axis": null}, "y": {"field": "v", "type": "quantitative", "axis": null}, "color": {"field": "s", "type": "nominal"}}},
        {"transform": [{"filter": "datum.s === 'after iterated TREXPIC'"}],
         "mark": {"type": "point", "shape": "square", "filled": true, "opacity": 1, "size": 85},
         "encoding": {"x": {"field": "mu", "type": "quantitative", "axis": null}, "y": {"field": "v", "type": "quantitative", "axis": null}, "color": {"field": "s", "type": "nominal"}}},
        {"mark": {"type": "point", "opacity": 0},
         "encoding": {
           "x": {"field": "mu", "type": "quantitative", "axis": {"orient": "top", "values": [0.1, 0.2, 0.3, 0.4, 0.5, 0.6, 0.7, 0.8, 0.9], "labels": false, "title": null}},
           "y": {"field": "v", "type": "quantitative", "axis": {"orient": "right", "values": [0, 0.2, 0.4, 0.6, 0.8, 1.0], "labels": false, "title": null}}
         }},
        {"data": {"values": []},
         "mark": {"type": "point", "filled": true},
         "encoding": {
           "x": {"field": "mu", "type": "quantitative", "axis": null},
           "y": {"field": "v", "type": "quantitative", "axis": null},
           "color": {"field": "s", "type": "nominal"},
           "strokeDash": {"field": "s", "type": "nominal"},
           "shape": {"field": "s", "type": "nominal",
             "scale": {"domain": ["on unweighted graph", "after 1 TREXPIC", "after iterated TREXPIC"], "range": ["M-2,0H2M0.38,0A0.38,0.38,0,1,1,-0.38,0A0.38,0.38,0,1,1,0.38,0Z", "M-2,0H2M0,-0.44L0.46,0.34L-0.46,0.34Z", "M-2,0H2M-0.42,-0.42H0.42V0.42H-0.42Z"]},
             "legend": {"orient": "none", "legendX": 9, "legendY": 149, "title": null, "padding": 7, "fillColor": "rgba(255,255,255,0.85)", "strokeColor": "#d0d0d0", "cornerRadius": 4, "labelFontSize": 21.4, "labelColor": "black", "labelLimit": 400, "labelOffset": 15, "symbolSize": 484, "symbolOffset": 12, "rowPadding": 9, "symbolStrokeWidth": 1.2, "symbolOpacity": 1}}
         }},
        {"data": {"values": [{"p": "b", "letter": "b"}]},
         "mark": {"type": "text", "fontSize": 24, "fontWeight": "bold", "align": "right", "baseline": "alphabetic", "color": "black"},
         "encoding": {
           "x": {"datum": 0.893, "type": "quantitative", "axis": null},
           "y": {"datum": 0.907, "type": "quantitative", "axis": null},
           "text": {"field": "letter"}
         }}
      ],
      "resolve": {"axis": {"x": "independent", "y": "independent"}}
    },
    {
      "title": "asynchronous label propagation",
      "width": 559, "height": 263,
      "data": {"name": "curves"},
      "transform": [{"filter": "datum.p === 'c'"}],
      "layer": [
        {"mark": {"type": "area", "opacity": 0.22},
         "encoding": {
           "x": {"field": "mu", "type": "quantitative", "scale": {"domain": [0.09, 0.91], "nice": false, "zero": false}, "axis": null},
           "y": {"field": "lo", "type": "quantitative", "scale": {"domain": [-0.01, 1.01], "nice": false, "zero": false}, "axis": null},
           "y2": {"field": "hi"},
           "color": {"field": "s", "type": "nominal", "scale": {"domain": ["on unweighted graph", "after 1 TREXPIC", "after iterated TREXPIC"], "range": ["#8b0000", "#b1702d", "#f5852f"]}}
         }},
        {"mark": {"type": "line", "strokeWidth": 1.2},
         "encoding": {
           "x": {"field": "mu", "type": "quantitative", "axis": {"orient": "bottom", "values": [0.1, 0.2, 0.3, 0.4, 0.5, 0.6, 0.7, 0.8, 0.9], "format": ".1f", "title": "mixing parameter"}},
           "y": {"field": "v", "type": "quantitative", "axis": {"orient": "left", "values": [0, 0.2, 0.4, 0.6, 0.8, 1.0], "format": ".1f", "title": "element-centric similarity"}},
           "color": {"field": "s", "type": "nominal"},
           "strokeDash": {"field": "s", "type": "nominal", "scale": {"domain": ["on unweighted graph", "after 1 TREXPIC", "after iterated TREXPIC"], "range": [[5, 2], [8, 2.5, 1.5, 2.5], [1.5, 2.5]]}}
         }},
        {"transform": [{"filter": "datum.s === 'on unweighted graph'"}],
         "mark": {"type": "point", "shape": "circle", "filled": true, "opacity": 1, "size": 48},
         "encoding": {"x": {"field": "mu", "type": "quantitative", "axis": null}, "y": {"field": "v", "type": "quantitative", "axis": null}, "color": {"field": "s", "type": "nominal"}}},
        {"transform": [{"filter": "datum.s === 'after 1 TREXPIC'"}],
         "mark": {"type": "point", "shape": "triangle-up", "filled": true, "opacity": 1, "size": 64},
         "encoding": {"x": {"field": "mu", "type": "quantitative", "axis": null}, "y": {"field": "v", "type": "quantitative", "axis": null}, "color": {"field": "s", "type": "nominal"}}},
        {"transform": [{"filter": "datum.s === 'after iterated TREXPIC'"}],
         "mark": {"type": "point", "shape": "square", "filled": true, "opacity": 1, "size": 85},
         "encoding": {"x": {"field": "mu", "type": "quantitative", "axis": null}, "y": {"field": "v", "type": "quantitative", "axis": null}, "color": {"field": "s", "type": "nominal"}}},
        {"mark": {"type": "point", "opacity": 0},
         "encoding": {
           "x": {"field": "mu", "type": "quantitative", "axis": {"orient": "top", "values": [0.1, 0.2, 0.3, 0.4, 0.5, 0.6, 0.7, 0.8, 0.9], "labels": false, "title": null}},
           "y": {"field": "v", "type": "quantitative", "axis": {"orient": "right", "values": [0, 0.2, 0.4, 0.6, 0.8, 1.0], "labels": false, "title": null}}
         }},
        {"data": {"values": []},
         "mark": {"type": "point", "filled": true},
         "encoding": {
           "x": {"field": "mu", "type": "quantitative", "axis": null},
           "y": {"field": "v", "type": "quantitative", "axis": null},
           "color": {"field": "s", "type": "nominal"},
           "strokeDash": {"field": "s", "type": "nominal"},
           "shape": {"field": "s", "type": "nominal",
             "scale": {"domain": ["on unweighted graph", "after 1 TREXPIC", "after iterated TREXPIC"], "range": ["M-2,0H2M0.38,0A0.38,0.38,0,1,1,-0.38,0A0.38,0.38,0,1,1,0.38,0Z", "M-2,0H2M0,-0.44L0.46,0.34L-0.46,0.34Z", "M-2,0H2M-0.42,-0.42H0.42V0.42H-0.42Z"]},
             "legend": {"orient": "none", "legendX": 8, "legendY": 149, "title": null, "padding": 7, "fillColor": "rgba(255,255,255,0.85)", "strokeColor": "#d0d0d0", "cornerRadius": 4, "labelFontSize": 21.4, "labelColor": "black", "labelLimit": 400, "labelOffset": 15, "symbolSize": 484, "symbolOffset": 12, "rowPadding": 9, "symbolStrokeWidth": 1.2, "symbolOpacity": 1}}
         }},
        {"data": {"values": [{"p": "c", "letter": "c"}]},
         "mark": {"type": "text", "fontSize": 24, "fontWeight": "bold", "align": "right", "baseline": "alphabetic", "color": "black"},
         "encoding": {
           "x": {"datum": 0.893, "type": "quantitative", "axis": null},
           "y": {"datum": 0.907, "type": "quantitative", "axis": null},
           "text": {"field": "letter"}
         }}
      ],
      "resolve": {"axis": {"x": "independent", "y": "independent"}}
    },
    {
      "title": "asynchronous label propagation",
      "width": 559, "height": 263,
      "data": {"name": "curves"},
      "transform": [{"filter": "datum.p === 'd'"}],
      "layer": [
        {"mark": {"type": "area", "opacity": 0.22},
         "encoding": {
           "x": {"field": "mu", "type": "quantitative", "scale": {"domain": [0.09, 0.91], "nice": false, "zero": false}, "axis": null},
           "y": {"field": "lo", "type": "quantitative", "scale": {"domain": [-0.01, 1.01], "nice": false, "zero": false}, "axis": null},
           "y2": {"field": "hi"},
           "color": {"field": "s", "type": "nominal", "scale": {"domain": ["on unweighted graph", "after 1 TREXPIC", "after iterated TREXPIC"], "range": ["#8b0000", "#b1702d", "#f5852f"]}}
         }},
        {"mark": {"type": "line", "strokeWidth": 1.2},
         "encoding": {
           "x": {"field": "mu", "type": "quantitative", "axis": {"orient": "bottom", "values": [0.1, 0.2, 0.3, 0.4, 0.5, 0.6, 0.7, 0.8, 0.9], "format": ".1f", "title": "mixing parameter"}},
           "y": {"field": "v", "type": "quantitative", "axis": {"orient": "left", "values": [0, 0.2, 0.4, 0.6, 0.8, 1.0], "format": ".1f", "title": "element-centric similarity"}},
           "color": {"field": "s", "type": "nominal"},
           "strokeDash": {"field": "s", "type": "nominal", "scale": {"domain": ["on unweighted graph", "after 1 TREXPIC", "after iterated TREXPIC"], "range": [[5, 2], [8, 2.5, 1.5, 2.5], [1.5, 2.5]]}}
         }},
        {"transform": [{"filter": "datum.s === 'on unweighted graph'"}],
         "mark": {"type": "point", "shape": "circle", "filled": true, "opacity": 1, "size": 48},
         "encoding": {"x": {"field": "mu", "type": "quantitative", "axis": null}, "y": {"field": "v", "type": "quantitative", "axis": null}, "color": {"field": "s", "type": "nominal"}}},
        {"transform": [{"filter": "datum.s === 'after 1 TREXPIC'"}],
         "mark": {"type": "point", "shape": "triangle-up", "filled": true, "opacity": 1, "size": 64},
         "encoding": {"x": {"field": "mu", "type": "quantitative", "axis": null}, "y": {"field": "v", "type": "quantitative", "axis": null}, "color": {"field": "s", "type": "nominal"}}},
        {"transform": [{"filter": "datum.s === 'after iterated TREXPIC'"}],
         "mark": {"type": "point", "shape": "square", "filled": true, "opacity": 1, "size": 85},
         "encoding": {"x": {"field": "mu", "type": "quantitative", "axis": null}, "y": {"field": "v", "type": "quantitative", "axis": null}, "color": {"field": "s", "type": "nominal"}}},
        {"mark": {"type": "point", "opacity": 0},
         "encoding": {
           "x": {"field": "mu", "type": "quantitative", "axis": {"orient": "top", "values": [0.1, 0.2, 0.3, 0.4, 0.5, 0.6, 0.7, 0.8, 0.9], "labels": false, "title": null}},
           "y": {"field": "v", "type": "quantitative", "axis": {"orient": "right", "values": [0, 0.2, 0.4, 0.6, 0.8, 1.0], "labels": false, "title": null}}
         }},
        {"data": {"values": []},
         "mark": {"type": "point", "filled": true},
         "encoding": {
           "x": {"field": "mu", "type": "quantitative", "axis": null},
           "y": {"field": "v", "type": "quantitative", "axis": null},
           "color": {"field": "s", "type": "nominal"},
           "strokeDash": {"field": "s", "type": "nominal"},
           "shape": {"field": "s", "type": "nominal",
             "scale": {"domain": ["on unweighted graph", "after 1 TREXPIC", "after iterated TREXPIC"], "range": ["M-2,0H2M0.38,0A0.38,0.38,0,1,1,-0.38,0A0.38,0.38,0,1,1,0.38,0Z", "M-2,0H2M0,-0.44L0.46,0.34L-0.46,0.34Z", "M-2,0H2M-0.42,-0.42H0.42V0.42H-0.42Z"]},
             "legend": {"orient": "none", "legendX": 9, "legendY": 149, "title": null, "padding": 7, "fillColor": "rgba(255,255,255,0.85)", "strokeColor": "#d0d0d0", "cornerRadius": 4, "labelFontSize": 21.4, "labelColor": "black", "labelLimit": 400, "labelOffset": 15, "symbolSize": 484, "symbolOffset": 12, "rowPadding": 9, "symbolStrokeWidth": 1.2, "symbolOpacity": 1}}
         }},
        {"data": {"values": [{"p": "d", "letter": "d"}]},
         "mark": {"type": "text", "fontSize": 24, "fontWeight": "bold", "align": "right", "baseline": "alphabetic", "color": "black"},
         "encoding": {
           "x": {"datum": 0.893, "type": "quantitative", "axis": null},
           "y": {"datum": 0.907, "type": "quantitative", "axis": null},
           "text": {"field": "letter"}
         }}
      ],
      "resolve": {"axis": {"x": "independent", "y": "independent"}}
    },
    {
      "title": "Infomap",
      "width": 559, "height": 263,
      "data": {"name": "curves"},
      "transform": [{"filter": "datum.p === 'e'"}],
      "layer": [
        {"mark": {"type": "area", "opacity": 0.22},
         "encoding": {
           "x": {"field": "mu", "type": "quantitative", "scale": {"domain": [0.09, 0.91], "nice": false, "zero": false}, "axis": null},
           "y": {"field": "lo", "type": "quantitative", "scale": {"domain": [-0.01, 1.01], "nice": false, "zero": false}, "axis": null},
           "y2": {"field": "hi"},
           "color": {"field": "s", "type": "nominal", "scale": {"domain": ["on unweighted graph", "after 1 TREXPIC", "after iterated TREXPIC"], "range": ["#8b0000", "#b1702d", "#f5852f"]}}
         }},
        {"mark": {"type": "line", "strokeWidth": 1.2},
         "encoding": {
           "x": {"field": "mu", "type": "quantitative", "axis": {"orient": "bottom", "values": [0.1, 0.2, 0.3, 0.4, 0.5, 0.6, 0.7, 0.8, 0.9], "format": ".1f", "title": "mixing parameter"}},
           "y": {"field": "v", "type": "quantitative", "axis": {"orient": "left", "values": [0, 0.2, 0.4, 0.6, 0.8, 1.0], "format": ".1f", "title": "element-centric similarity"}},
           "color": {"field": "s", "type": "nominal"},
           "strokeDash": {"field": "s", "type": "nominal", "scale": {"domain": ["on unweighted graph", "after 1 TREXPIC", "after iterated TREXPIC"], "range": [[5, 2], [8, 2.5, 1.5, 2.5], [1.5, 2.5]]}}
         }},
        {"transform": [{"filter": "datum.s === 'on unweighted graph'"}],
         "mark": {"type": "point", "shape": "circle", "filled": true, "opacity": 1, "size": 48},
         "encoding": {"x": {"field": "mu", "type": "quantitative", "axis": null}, "y": {"field": "v", "type": "quantitative", "axis": null}, "color": {"field": "s", "type": "nominal"}}},
        {"transform": [{"filter": "datum.s === 'after 1 TREXPIC'"}],
         "mark": {"type": "point", "shape": "triangle-up", "filled": true, "opacity": 1, "size": 64},
         "encoding": {"x": {"field": "mu", "type": "quantitative", "axis": null}, "y": {"field": "v", "type": "quantitative", "axis": null}, "color": {"field": "s", "type": "nominal"}}},
        {"transform": [{"filter": "datum.s === 'after iterated TREXPIC'"}],
         "mark": {"type": "point", "shape": "square", "filled": true, "opacity": 1, "size": 85},
         "encoding": {"x": {"field": "mu", "type": "quantitative", "axis": null}, "y": {"field": "v", "type": "quantitative", "axis": null}, "color": {"field": "s", "type": "nominal"}}},
        {"mark": {"type": "point", "opacity": 0},
         "encoding": {
           "x": {"field": "mu", "type": "quantitative", "axis": {"orient": "top", "values": [0.1, 0.2, 0.3, 0.4, 0.5, 0.6, 0.7, 0.8, 0.9], "labels": false, "title": null}},
           "y": {"field": "v", "type": "quantitative", "axis": {"orient": "right", "values": [0, 0.2, 0.4, 0.6, 0.8, 1.0], "labels": false, "title": null}}
         }},
        {"data": {"values": []},
         "mark": {"type": "point", "filled": true},
         "encoding": {
           "x": {"field": "mu", "type": "quantitative", "axis": null},
           "y": {"field": "v", "type": "quantitative", "axis": null},
           "color": {"field": "s", "type": "nominal"},
           "strokeDash": {"field": "s", "type": "nominal"},
           "shape": {"field": "s", "type": "nominal",
             "scale": {"domain": ["on unweighted graph", "after 1 TREXPIC", "after iterated TREXPIC"], "range": ["M-2,0H2M0.38,0A0.38,0.38,0,1,1,-0.38,0A0.38,0.38,0,1,1,0.38,0Z", "M-2,0H2M0,-0.44L0.46,0.34L-0.46,0.34Z", "M-2,0H2M-0.42,-0.42H0.42V0.42H-0.42Z"]},
             "legend": {"orient": "none", "legendX": 8, "legendY": 149, "title": null, "padding": 7, "fillColor": "rgba(255,255,255,0.85)", "strokeColor": "#d0d0d0", "cornerRadius": 4, "labelFontSize": 21.4, "labelColor": "black", "labelLimit": 400, "labelOffset": 15, "symbolSize": 484, "symbolOffset": 12, "rowPadding": 9, "symbolStrokeWidth": 1.2, "symbolOpacity": 1}}
         }},
        {"data": {"values": [{"p": "e", "letter": "e"}]},
         "mark": {"type": "text", "fontSize": 24, "fontWeight": "bold", "align": "right", "baseline": "alphabetic", "color": "black"},
         "encoding": {
           "x": {"datum": 0.893, "type": "quantitative", "axis": null},
           "y": {"datum": 0.907, "type": "quantitative", "axis": null},
           "text": {"field": "letter"}
         }}
      ],
      "resolve": {"axis": {"x": "independent", "y": "independent"}}
    },
    {
      "title": "Infomap",
      "width": 559, "height": 263,
      "data": {"name": "curves"},
      "transform": [{"filter": "datum.p === 'f'"}],
      "layer": [
        {"mark": {"type": "area", "opacity": 0.22},
         "encoding": {
           "x": {"field": "mu", "type": "quantitative", "scale": {"domain": [0.09, 0.91], "nice": false, "zero": false}, "axis": null},
           "y": {"field": "lo", "type": "quantitative", "scale": {"domain": [-0.01, 1.01], "nice": false, "zero": false}, "axis": null},
           "y2": {"field": "hi"},
           "color": {"field": "s", "type": "nominal", "scale": {"domain": ["on unweighted graph", "after 1 TREXPIC", "after iterated TREXPIC"], "range": ["#8b0000", "#b1702d", "#f5852f"]}}
         }},
        {"mark": {"type": "line", "strokeWidth": 1.2},
         "encoding": {
           "x": {"field": "mu", "type": "quantitative", "axis": {"orient": "bottom", "values": [0.1, 0.2, 0.3, 0.4, 0.5, 0.6, 0.7, 0.8, 0.9], "format": ".1f", "title": "mixing parameter"}},
           "y": {"field": "v", "type": "quantitative", "axis": {"orient": "left", "values": [0, 0.2, 0.4, 0.6, 0.8, 1.0], "format": ".1f", "title": "element-centric similarity"}},
           "color": {"field": "s", "type": "nominal"},
           "strokeDash": {"field": "s", "type": "nominal", "scale": {"domain": ["on unweighted graph", "after 1 TREXPIC", "after iterated TREXPIC"], "range": [[5, 2], [8, 2.5, 1.5, 2.5], [1.5, 2.5]]}}
         }},
        {"transform": [{"filter": "datum.s === 'on unweighted graph'"}],
         "mark": {"type": "point", "shape": "circle", "filled": true, "opacity": 1, "size": 48},
         "encoding": {"x": {"field": "mu", "type": "quantitative", "axis": null}, "y": {"field": "v", "type": "quantitative", "axis": null}, "color": {"field": "s", "type": "nominal"}}},
        {"transform": [{"filter": "datum.s === 'after 1 TREXPIC'"}],
         "mark": {"type": "point", "shape": "triangle-up", "filled": true, "opacity": 1, "size": 64},
         "encoding": {"x": {"field": "mu", "type": "quantitative", "axis": null}, "y": {"field": "v", "type": "quantitative", "axis": null}, "color": {"field": "s", "type": "nominal"}}},
        {"transform": [{"filter": "datum.s === 'after iterated TREXPIC'"}],
         "mark": {"type": "point", "shape": "square", "filled": true, "opacity": 1, "size": 85},
         "encoding": {"x": {"field": "mu", "type": "quantitative", "axis": null}, "y": {"field": "v", "type": "quantitative", "axis": null}, "color": {"field": "s", "type": "nominal"}}},
        {"mark": {"type": "point", "opacity": 0},
         "encoding": {
           "x": {"field": "mu", "type": "quantitative", "axis": {"orient": "top", "values": [0.1, 0.2, 0.3, 0.4, 0.5, 0.6, 0.7, 0.8, 0.9], "labels": false, "title": null}},
           "y": {"field": "v", "type": "quantitative", "axis": {"orient": "right", "values": [0, 0.2, 0.4, 0.6, 0.8, 1.0], "labels": false, "title": null}}
         }},
        {"data": {"values": []},
         "mark": {"type": "point", "filled": true},
         "encoding": {
           "x": {"field": "mu", "type": "quantitative", "axis": null},
           "y": {"field": "v", "type": "quantitative", "axis": null},
           "color": {"field": "s", "type": "nominal"},
           "strokeDash": {"field": "s", "type": "nominal"},
           "shape": {"field": "s", "type": "nominal",
             "scale": {"domain": ["on unweighted graph", "after 1 TREXPIC", "after iterated TREXPIC"], "range": ["M-2,0H2M0.38,0A0.38,0.38,0,1,1,-0.38,0A0.38,0.38,0,1,1,0.38,0Z", "M-2,0H2M0,-0.44L0.46,0.34L-0.46,0.34Z", "M-2,0H2M-0.42,-0.42H0.42V0.42H-0.42Z"]},
             "legend": {"orient": "none", "legendX": 9, "legendY": 149, "title": null, "padding": 7, "fillColor": "rgba(255,255,255,0.85)", "strokeColor": "#d0d0d0", "cornerRadius": 4, "labelFontSize": 21.4, "labelColor": "black", "labelLimit": 400, "labelOffset": 15, "symbolSize": 484, "symbolOffset": 12, "rowPadding": 9, "symbolStrokeWidth": 1.2, "symbolOpacity": 1}}
         }},
        {"data": {"values": [{"p": "f", "letter": "f"}]},
         "mark": {"type": "text", "fontSize": 24, "fontWeight": "bold", "align": "right", "baseline": "alphabetic", "color": "black"},
         "encoding": {
           "x": {"datum": 0.893, "type": "quantitative", "axis": null},
           "y": {"datum": 0.907, "type": "quantitative", "axis": null},
           "text": {"field": "letter"}
         }}
      ],
      "resolve": {"axis": {"x": "independent", "y": "independent"}}
    }
  ],
  "resolve": {"scale": {"x": "independent", "y": "independent", "color": "independent", "strokeDash": "independent", "shape": "independent"}, "legend": {"color": "independent", "strokeDash": "independent", "shape": "independent"}},
  "config": {
    "font": "DejaVu Sans",
    "background": "white",
    "view": {"stroke": "black", "strokeWidth": 1},
    "axis": {"domain": false, "grid": false, "ticks": true, "tickColor": "black", "tickSize": 5, "tickWidth": 1, "labelColor": "black", "labelFontSize": 15, "labelFont": "DejaVu Sans", "labelPadding": 2, "titleFont": "DejaVu Sans", "titleFontSize": 21, "titleFontWeight": "normal", "titleColor": "black"},
    "axisBottom": {"titlePadding": 2, "labelPadding": 1},
    "axisLeft": {"titlePadding": 4},
    "title": {"fontSize": 25.6, "fontWeight": "normal", "font": "DejaVu Sans", "color": "black", "offset": -1, "anchor": "middle"},
    "legend": {"labelFont": "DejaVu Sans", "symbolOpacity": 1}
  }
}
